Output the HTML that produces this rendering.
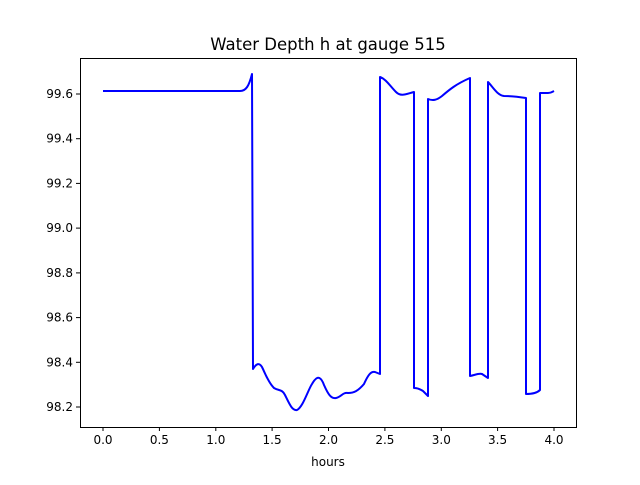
<!DOCTYPE html>
<html><head><meta charset="utf-8"><style>
body{margin:0;background:#fff;}
svg text{font-family:"DejaVu Sans","Liberation Sans",sans-serif;}
</style></head><body>
<svg width="640" height="480" xmlns="http://www.w3.org/2000/svg">
<rect width="640" height="480" fill="#fff"/>
<text x="328" y="50" font-size="16.5" text-anchor="middle">Water Depth h at gauge 515</text>
<path fill="none" stroke="#0000ff" stroke-width="2" stroke-linejoin="round" d="M103,91 L240,91 C246,91 249,86 252,74 L253,369 C256,364 259,362 262,367 C265,373 268,382 274,388 C279,391 282,389 285,395 C289,403 292,411 297,410 C303,407 308,390 312,384 C316,377 320,374 324,385 C328,394 331,399 336,398 C341,397 343,392 348,393 C354,393 358,391 364,384 C368,375 371,371 375,372 L380,374 L380,77 C386,79 390,86 396,92 C401,97 406,94 414,92 L414,388 C419,388 421,390 423,391 L428,396 L428,99 C433,101 437,100 442,96 C449,90 456,84 470,78 L470,376 C475,375 479,373 482,374 L488,378 L488,82 C493,87 497,95 504,96 C512,96 520,97 526,98 L526,394 C532,394 537,393 540,390 L540,93 L548,93 C551,93 552,92 554,91"/>
<rect x="80.5" y="58.5" width="496" height="369" fill="none" stroke="#000" stroke-width="1"/>
<g stroke="#000" stroke-width="1">
<line x1="103" y1="427" x2="103" y2="431"/><line x1="159.4" y1="427" x2="159.4" y2="431"/><line x1="215.8" y1="427" x2="215.8" y2="431"/><line x1="272.1" y1="427" x2="272.1" y2="431"/><line x1="328.5" y1="427" x2="328.5" y2="431"/><line x1="384.9" y1="427" x2="384.9" y2="431"/><line x1="441.3" y1="427" x2="441.3" y2="431"/><line x1="497.6" y1="427" x2="497.6" y2="431"/><line x1="554" y1="427" x2="554" y2="431"/>
<line x1="76" y1="407" x2="80" y2="407"/><line x1="76" y1="362.3" x2="80" y2="362.3"/><line x1="76" y1="317.6" x2="80" y2="317.6"/><line x1="76" y1="272.9" x2="80" y2="272.9"/><line x1="76" y1="228.1" x2="80" y2="228.1"/><line x1="76" y1="183.4" x2="80" y2="183.4"/><line x1="76" y1="138.7" x2="80" y2="138.7"/><line x1="76" y1="94" x2="80" y2="94"/>
</g>
<g font-size="12" text-anchor="middle">
<text x="103" y="444">0.0</text><text x="159.4" y="444">0.5</text><text x="215.8" y="444">1.0</text><text x="272.1" y="444">1.5</text><text x="328.5" y="444">2.0</text><text x="384.9" y="444">2.5</text><text x="441.3" y="444">3.0</text><text x="497.6" y="444">3.5</text><text x="554" y="444">4.0</text>
</g>
<g font-size="12" text-anchor="end">
<text x="73" y="411">98.2</text><text x="73" y="366.3">98.4</text><text x="73" y="321.6">98.6</text><text x="73" y="276.9">98.8</text><text x="73" y="232.1">99.0</text><text x="73" y="187.4">99.2</text><text x="73" y="142.7">99.4</text><text x="73" y="98">99.6</text>
</g>
<text x="328" y="466" font-size="12" text-anchor="middle">hours</text>
</svg>
</body></html>
